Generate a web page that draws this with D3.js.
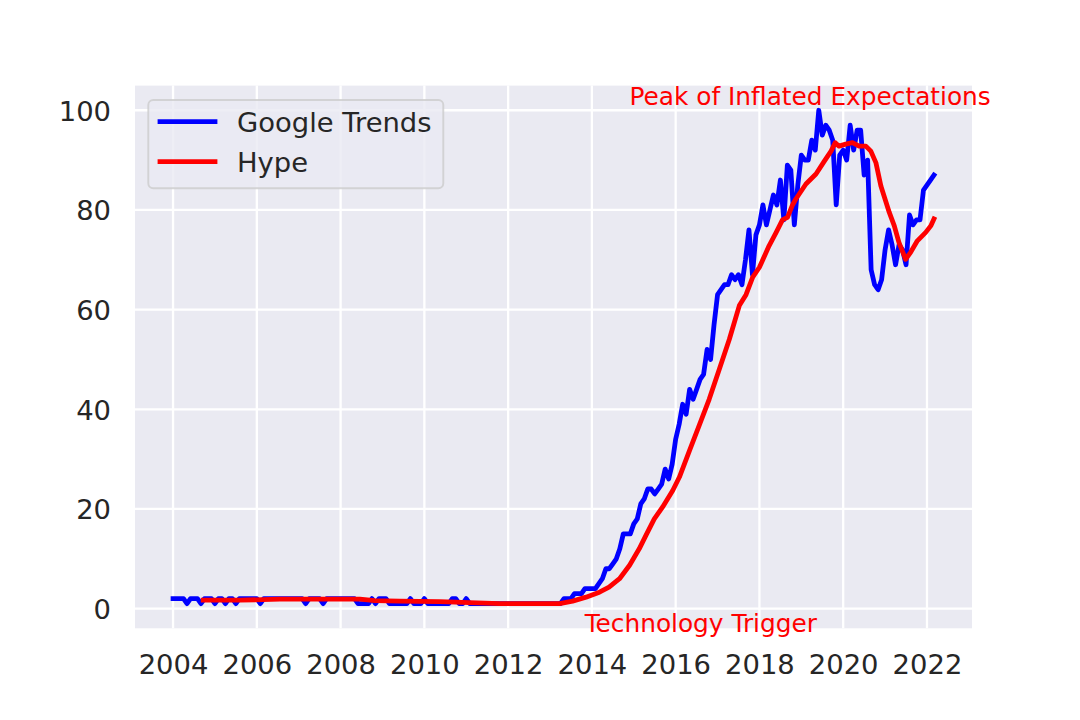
<!DOCTYPE html>
<html>
<head>
<meta charset="utf-8">
<script src="https://cdn.jsdelivr.net/npm/d3@7"></script>
<style>
  html, body { margin: 0; padding: 0; background: #ffffff; }
  svg { display: block; }
  text { font-family: "DejaVu Sans", sans-serif; }
</style>
</head>
<body>
<svg id="chart" width="1080" height="720"></svg>
<script>
// ---------------- DATA ----------------
const startYear = 2004;           // first month: Jan 2004, monthly values
const trendsValues = [
  // 2004
  2,2,2,2,1,2,2,2,1,2,2,2,
  // 2005
  1,2,2,1,2,2,1,2,2,2,2,2,
  // 2006
  2,1,2,2,2,2,2,2,2,2,2,2,
  // 2007
  2,2,1,2,2,2,2,1,2,2,2,2,
  // 2008
  2,2,2,2,2,1,1,1,1,2,1,2,
  // 2009
  2,2,1,1,1,1,1,1,2,1,1,1,
  // 2010
  2,1,1,1,1,1,1,1,2,2,1,1,
  // 2011
  2,1,1,1,1,1,1,1,1,1,1,1,
  // 2012
  1,1,1,1,1,1,1,1,1,1,1,1,
  // 2013
  1,1,1,1,2,2,2,3,3,3,4,4,
  // 2014
  4,4,5,6,8,8,9,10,12,15,15,15,
  // 2015
  17,18,21,22,24,24,23,24,25,28,26,29,
  // 2016
  34,37,41,39,44,42,44,46,47,52,50,57,
  // 2017
  63,64,65,65,67,66,67,65,70,76,67,75,
  // 2018
  77,81,77,80,83,81,86,78,89,88,77,85,
  // 2019
  91,90,90,94,92,100,95,97,96,94,81,91,
  // 2020
  92,90,97,92,96,96,87,90,68,65,64,66,
  // 2021
  72,76,73,69,73,72,69,79,77,78,78,84,
  // 2022
  85,86,87
];

// Hype curve (decimal year, value)
const hypeYears = [
  2004.72, 2005.6, 2006.55, 2007.74, 2008.46, 2008.82, 2009.41, 2010.37, 2011.08, 2011.8,
  2012.75, 2013.23, 2013.54, 2013.86, 2014.18, 2014.41, 2014.66, 2014.9, 2015.13, 2015.29,
  2015.49, 2015.69, 2015.93, 2016.09, 2016.33, 2016.56, 2016.8, 2017.04, 2017.28, 2017.52,
  2017.68, 2017.84, 2018.0, 2018.23, 2018.4, 2018.55, 2018.67, 2018.79, 2018.87, 2019.11,
  2019.35, 2019.55, 2019.71, 2019.81, 2019.9, 2020.06, 2020.22, 2020.38, 2020.54, 2020.66,
  2020.78, 2020.9, 2021.1, 2021.22, 2021.33, 2021.49, 2021.61, 2021.77, 2021.97, 2022.09,
  2022.1667
];
const hypeValues = [
  1.7, 1.7, 1.9, 1.9, 1.9, 1.6, 1.5, 1.4, 1.2, 1.0,
  1.0, 1.0, 1.5, 2.3, 3.3, 4.3, 6.0, 8.7, 12.0, 14.7,
  18.0, 20.4, 23.7, 26.4, 31.7, 36.7, 42.0, 48.0, 54.0, 60.8,
  63.0, 66.5, 68.5, 72.8, 75.5, 78.0, 78.5, 81.0, 82.2, 85.2,
  87.2, 89.8, 91.8, 93.5, 92.8, 93.2, 93.5, 92.8, 92.8, 91.8,
  89.5, 84.8, 79.5, 76.8, 73.5, 70.1, 71.5, 73.8, 75.5, 76.8,
  78.2
];

const seriesNames = ["Google Trends", "Hype"];
const seriesColors = ["#0000ff", "#ff0000"];

const xTickValues = [2004, 2006, 2008, 2010, 2012, 2014, 2016, 2018, 2020, 2022];
const yTickValues = [0, 20, 40, 60, 80, 100];

const annotationTexts = ["Peak of Inflated Expectations", "Technology Trigger"];
const annotationYears = [2019.21, 2016.6];
const annotationValues = [101.15, -4.6];

// ---------------- LAYOUT ----------------
const W = 1080, H = 720;
const plot = { left: 135, right: 972, top: 85.6, bottom: 628.3 };
const bg = "#EAEAF2";
const textColor = "#262626";
const tickFont = 27.4;
const annFont = 24.8;
const lineW = 4.8;

const trends = trendsValues.map((v, i) => ({ x: startYear + i / 12, y: v }));
const hype = hypeYears.map((t, i) => ({ x: t, y: hypeValues[i] }));

// matplotlib-like 5% margins
const allX = trends.map(d => d.x).concat(hype.map(d => d.x));
const allY = trends.map(d => d.y).concat(hype.map(d => d.y));
const [x0, x1] = d3.extent(allX);
const [y0, y1] = d3.extent(allY);
const mx = (x1 - x0) * 0.05, my = (y1 - y0) * 0.05;

const x = d3.scaleLinear().domain([x0 - mx, x1 + mx]).range([plot.left, plot.right]);
const y = d3.scaleLinear().domain([y0 - my, y1 + my]).range([plot.bottom, plot.top]);

const svg = d3.select("#chart");
svg.append("rect").attr("x", 0).attr("y", 0).attr("width", W).attr("height", H).attr("fill", "#ffffff");

// axes background
svg.append("rect")
  .attr("x", plot.left).attr("y", plot.top)
  .attr("width", plot.right - plot.left).attr("height", plot.bottom - plot.top)
  .attr("fill", bg);

// grid
const grid = svg.append("g");
grid.selectAll("line.vx").data(xTickValues).enter().append("line")
  .attr("x1", d => x(d)).attr("x2", d => x(d))
  .attr("y1", plot.top).attr("y2", plot.bottom)
  .attr("stroke", "#ffffff").attr("stroke-width", 2.3);
grid.selectAll("line.hy").data(yTickValues).enter().append("line")
  .attr("y1", d => y(d)).attr("y2", d => y(d))
  .attr("x1", plot.left).attr("x2", plot.right)
  .attr("stroke", "#ffffff").attr("stroke-width", 2.3);

// axes (labels only, no tick marks / domain)
const xAxis = d3.axisBottom(x).tickValues(xTickValues).tickFormat(d3.format("d")).tickSize(0).tickPadding(0);
const gx = svg.append("g").attr("transform", `translate(0,${plot.bottom})`).call(xAxis);
gx.select(".domain").remove();
gx.selectAll("text")
  .attr("y", 46).attr("dy", null)
  .attr("font-size", tickFont).attr("fill", textColor)
  .style("font-family", '"DejaVu Sans", sans-serif');

const yAxis = d3.axisLeft(y).tickValues(yTickValues).tickFormat(d3.format("d")).tickSize(0).tickPadding(0);
const gy = svg.append("g").attr("transform", `translate(${plot.left},0)`).call(yAxis);
gy.select(".domain").remove();
gy.selectAll("text")
  .attr("x", -24).attr("dy", "0.36em")
  .attr("font-size", tickFont).attr("fill", textColor)
  .style("font-family", '"DejaVu Sans", sans-serif');

// lines
const line = d3.line().x(d => x(d.x)).y(d => y(d.y));
svg.append("clipPath").attr("id", "clip").append("rect")
  .attr("x", plot.left).attr("y", plot.top)
  .attr("width", plot.right - plot.left).attr("height", plot.bottom - plot.top);

[trends, hype].forEach((data, i) => {
  svg.append("path").datum(data)
    .attr("d", line)
    .attr("fill", "none")
    .attr("stroke", seriesColors[i])
    .attr("stroke-width", lineW)
    .attr("stroke-linejoin", "round")
    .attr("stroke-linecap", "square")
    .attr("clip-path", "url(#clip)");
});

// annotations
svg.selectAll("text.ann").data(annotationTexts).enter().append("text")
  .attr("class", "ann")
  .attr("x", (d, i) => x(annotationYears[i]))
  .attr("y", (d, i) => y(annotationValues[i]))
  .attr("text-anchor", "middle")
  .attr("font-size", annFont)
  .attr("fill", "#ff0000")
  .text(d => d);

// legend
const legend = svg.append("g");
const lg = { x: 148.3, y: 100, w: 295, h: 88.3 };
legend.append("rect")
  .attr("x", lg.x).attr("y", lg.y).attr("width", lg.w).attr("height", lg.h)
  .attr("rx", 5).attr("ry", 5)
  .attr("fill", bg).attr("fill-opacity", 0.8)
  .attr("stroke", "#cccccc").attr("stroke-opacity", 0.8).attr("stroke-width", 1.9);
seriesNames.forEach((name, i) => {
  const cy = 121.7 + i * 40;
  legend.append("line")
    .attr("x1", 160).attr("x2", 215)
    .attr("y1", cy).attr("y2", cy)
    .attr("stroke", seriesColors[i]).attr("stroke-width", lineW)
    .attr("stroke-linecap", "square");
  legend.append("text")
    .attr("x", 237).attr("y", cy).attr("dy", "0.36em")
    .attr("font-size", tickFont).attr("fill", textColor)
    .text(name);
});
</script>
</body>
</html>
